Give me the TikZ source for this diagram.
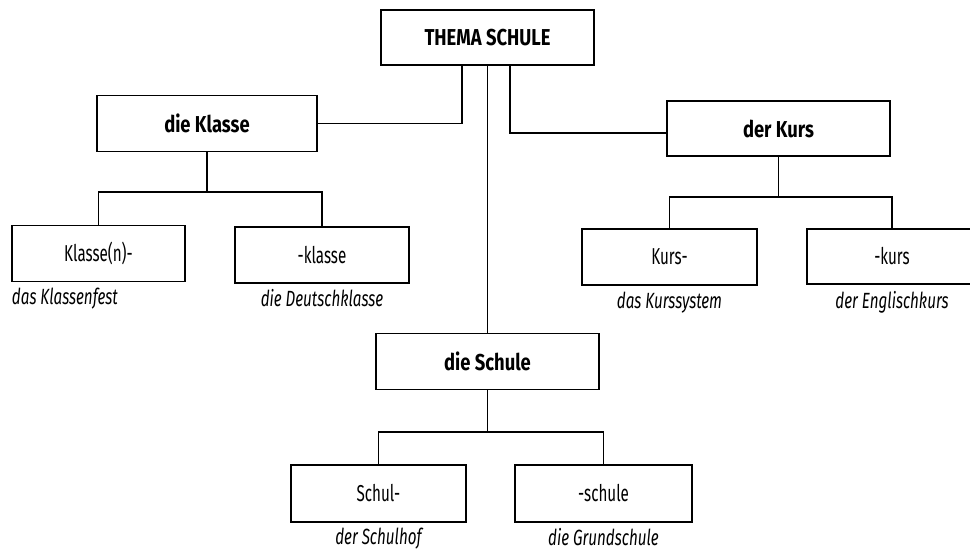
\documentclass[tikz,border=0pt]{standalone}
\usepackage{fontspec}
\setmainfont{Fira Sans}
\newfontfamily\boxfont{Fira Sans}[FakeStretch=0.66]
\newfontfamily\headfont{Fira Sans}[FakeStretch=0.8]
\newfontfamily\lblfont{Fira Sans}[FakeStretch=0.69]
\usetikzlibrary{positioning}
\begin{document}
\begin{tikzpicture}[x=1pt, y=-1pt, line width=1.1pt,
    box/.style={rectangle, draw, inner sep=0pt, minimum height=56pt, font=\boxfont\fontsize{23}{26}\selectfont},
    topbox/.style={box, font=\headfont\fontsize{23}{26}\selectfont\bfseries},
    lbl/.style={inner sep=0pt, font=\lblfont\fontsize{22}{25}\selectfont\itshape}]
    \useasboundingbox (0,0) rectangle (970,555);

    % Thema
    \node[topbox, minimum width=213pt, minimum height=55pt] (thema) at (487.5,37.5) {THEMA SCHULE};

    % Hauptbegriffe
    \node[topbox, minimum width=220pt] (klasse) at (207,123.5) {die Klasse};
    \node[topbox, minimum width=223pt, minimum height=55pt] (kurs) at (778.5,128.5) {der Kurs};
    \node[topbox, minimum width=223pt] (schule) at (487.5,361.5) {die Schule};

    % Klasse
    \node[box, minimum width=173pt] (klassen) at (98.5,253.5) {Klasse(n)-};
    \node[box, minimum width=174pt] (dklasse) at (322,255) {-klasse};
    \node[lbl, anchor=north west] (fest) at ([yshift=-5]klassen.south west) {das Klassenfest};
    \node[lbl, below=5pt of dklasse] (deutsch) {die Deutschklasse};

    % Kurs
    \node[box, minimum width=175pt] (kursp) at (669.5,257) {Kurs-};
    \node[box, minimum width=170pt, minimum height=55pt] (ekurs) at (892,256.5) {-kurs};
    \node[lbl, below=6pt of kursp] (system) {das Kurssystem};
    \node[lbl, below=6pt of ekurs] (englisch) {der Englischkurs};

    % Schule
    \node[box, minimum width=175pt, minimum height=57pt] (schulp) at (378.5,493.5) {Schul-};
    \node[box, minimum width=177pt, minimum height=57pt] (gschule) at (603.5,493.5) {-schule};
    \node[lbl, below=5pt of schulp] (hof) {der Schulhof};
    \node[lbl, below=5pt of gschule] (grund) {die Grundschule};

    % Verbindungen
    \coordinate (kj) at (207,192);
    \coordinate (uj) at (778.5,197);
    \coordinate (sj) at (487.5,432);
    \draw ([xshift=-25.5]thema.south) |- (klasse.east);
    \draw ([xshift=22.5]thema.south) |- ([yshift=-4.5]kurs.west);
    \draw (thema.south) -- (schule.north);
    \draw (klasse.south) -- (kj) (klassen.north) |- (kj) -| (dklasse.north);
    \draw (kurs.south) -- (uj) (kursp.north) |- (uj) -| (ekurs.north);
    \draw (schule.south) -- (sj) (schulp.north) |- (sj) -| (gschule.north);
\end{tikzpicture}
\end{document}
